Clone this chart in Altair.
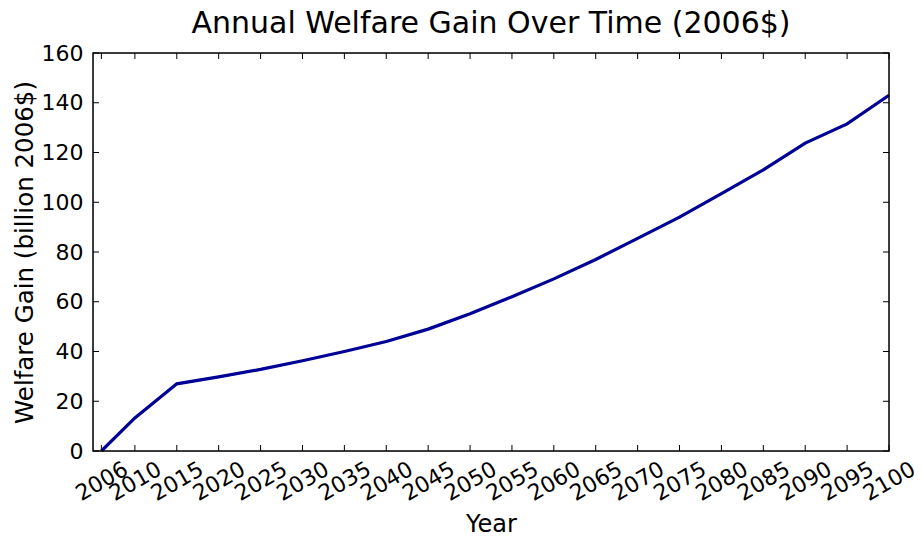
import altair as alt
import pandas as pd

years = [2006, 2010, 2015, 2020, 2025, 2030, 2035, 2040, 2045, 2050,
         2055, 2060, 2065, 2070, 2075, 2080, 2085, 2090, 2095, 2100]
welfare_gain = [0.0, 13.3, 27.0, 29.8, 32.8, 36.3, 40.0, 44.0, 49.0, 55.2,
                62.0, 69.2, 77.0, 85.5, 94.0, 103.5, 113.0, 123.8, 131.5, 143.0]
x_ticks = [2006, 2010, 2015, 2020, 2025, 2030, 2035, 2040, 2045, 2050,
           2055, 2060, 2065, 2070, 2075, 2080, 2085, 2090, 2095, 2100]
y_ticks = [0, 20, 40, 60, 80, 100, 120, 140, 160]
title_text = "Annual Welfare Gain Over Time (2006$)"

W, H = 796, 398
FONT = "DejaVu Sans"

df = pd.DataFrame({"Year": years, "Gain": welfare_gain})
xt = pd.DataFrame({"Year": x_ticks})
yt = pd.DataFrame({"Gain": y_ticks})
one = pd.DataFrame({"k": [0]})

xscale = alt.Scale(domain=[2005, 2100], nice=False, zero=False)
yscale = alt.Scale(domain=[0, 160], nice=False)

line = alt.Chart(df).mark_line(color="#000096", strokeWidth=3.2).encode(
    x=alt.X("Year:Q", scale=xscale,
            axis=alt.Axis(values=x_ticks, format="d", title="Year",
                          labelAngle=-30, labelAlign="center", labelBaseline="middle",
                          labelPadding=30, ticks=False, tickSize=0, domain=False,
                          grid=False, labelFontSize=22, labelFont=FONT,
                          labelColor="black", labelOverlap=False,
                          titleFontSize=24, titleFont=FONT, titleFontWeight="normal",
                          titleColor="black", titleBaseline="alphabetic",
                          titleY=80)),
    y=alt.Y("Gain:Q", scale=yscale,
            axis=alt.Axis(values=y_ticks, title="Welfare Gain (billion 2006$)",
                          ticks=False, tickSize=0, domain=False, grid=False,
                          labelPadding=10, labelFontSize=22, labelFont=FONT,
                          labelColor="black",
                          titleFontSize=24.5, titleFont=FONT, titleFontWeight="normal",
                          titleColor="black", titleBaseline="alphabetic",
                          titleX=-61, titleY=H / 2)),
)

tick_style = dict(color="black", strokeWidth=1)
xt_bottom = alt.Chart(xt).mark_rule(**tick_style).encode(
    x=alt.X("Year:Q", scale=xscale), y=alt.value(H), y2=alt.value(H - 6))
xt_top = alt.Chart(xt).mark_rule(**tick_style).encode(
    x=alt.X("Year:Q", scale=xscale), y=alt.value(0), y2=alt.value(6))
yt_left = alt.Chart(yt).mark_rule(**tick_style).encode(
    y=alt.Y("Gain:Q", scale=yscale), x=alt.value(0), x2=alt.value(6))
yt_right = alt.Chart(yt).mark_rule(**tick_style).encode(
    y=alt.Y("Gain:Q", scale=yscale), x=alt.value(W), x2=alt.value(W - 6))

frame = alt.Chart(one).mark_rect(fillOpacity=0, stroke="black", strokeWidth=1.5).encode(
    x=alt.value(0), x2=alt.value(W), y=alt.value(0), y2=alt.value(H))

title = alt.Chart(one).mark_text(fontSize=30, font=FONT, color="black",
                                 align="center", baseline="alphabetic").encode(
    x=alt.value(W / 2), y=alt.value(-20), text=alt.value(title_text))

chart = alt.layer(xt_bottom, xt_top, yt_left, yt_right, line, frame, title).properties(
    width=W, height=H,
    padding={"left": 85, "top": 45, "right": 25, "bottom": 81},
    autosize="none",
).configure_view(stroke=None).configure(background="white")

chart.save("out.html", embed_options={"renderer": "svg", "actions": False})
